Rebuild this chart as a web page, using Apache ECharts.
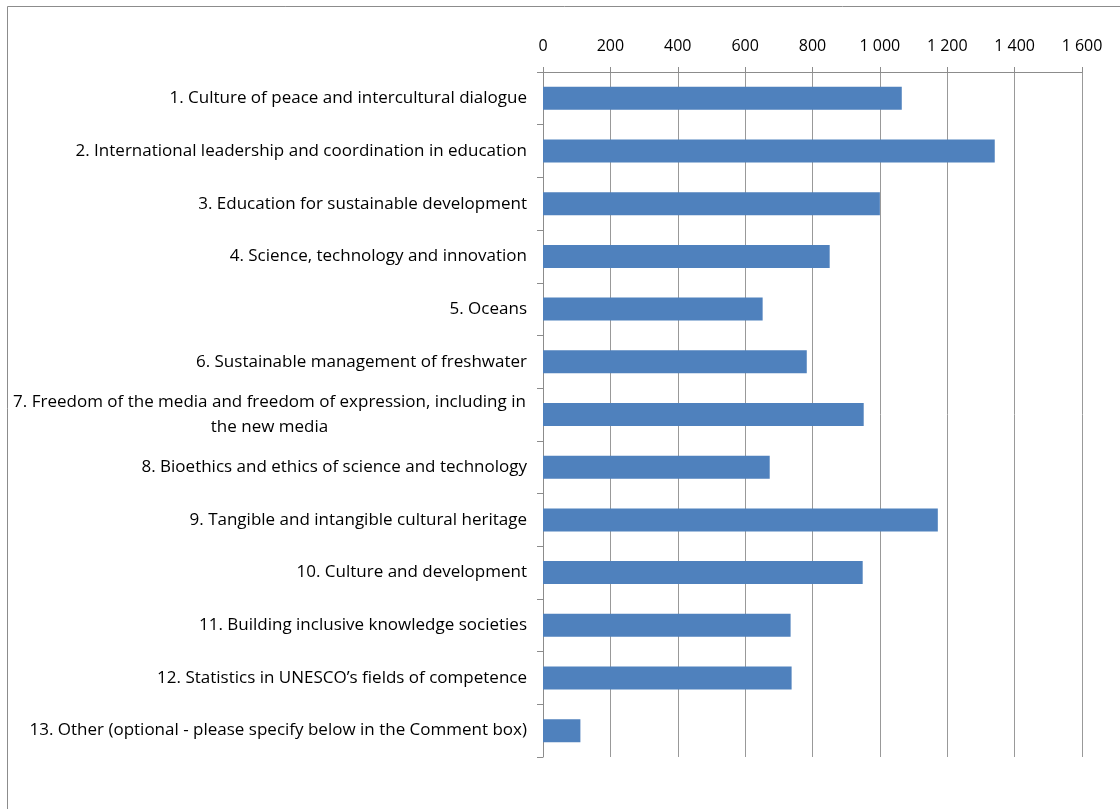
<!DOCTYPE html>
<html>
<head>
<meta charset="utf-8">
<script src="https://cdn.jsdelivr.net/npm/echarts@6/dist/echarts.min.js"></script>
<style>
  html, body { margin: 0; padding: 0; background: #fff; }
  #chart { width: 1120px; height: 809px; }
</style>
</head>
<body>
<div id="chart"></div>
<script>
// categories, top to bottom
var categories = [
  '1. Culture of peace and intercultural dialogue',
  '2. International leadership and coordination in education',
  '3. Education for sustainable development',
  '4. Science, technology and innovation',
  '5. Oceans',
  '6. Sustainable management of freshwater',
  '7. Freedom of the media and freedom of expression, including in\nthe new media',
  '8. Bioethics and ethics of science and technology',
  '9. Tangible and intangible cultural heritage',
  '10. Culture and development',
  '11. Building inclusive knowledge societies',
  '12. Statistics in UNESCO\u2019s fields of competence',
  '13. Other (optional - please specify below in the Comment box)'
];
var values = [1065, 1341, 1000, 851, 652, 783, 952, 673, 1172, 949, 735, 738, 111];
var tickValues = [0, 200, 400, 600, 800, 1000, 1200, 1400, 1600];
var tickLabels = ['0', '200', '400', '600', '800', '1 000', '1 200', '1 400', '1 600'];

var font = '"Open Sans", "Noto Sans", sans-serif';
var myChart = echarts.init(document.getElementById('chart'));
var option = {
  animation: false,
  backgroundColor: '#fff',
  graphic: [{
    type: 'rect',
    shape: { x: 7.5, y: 6.5, width: 1200, height: 900 },
    style: { fill: 'none', stroke: '#8c8c8c', lineWidth: 1 },
    z: -1
  }],
  grid: { left: 543, right: 38, top: 72, bottom: 52 },
  xAxis: {
    type: 'value',
    position: 'top',
    min: 0,
    max: 1600,
    interval: 200,
    axisLine: { show: true, lineStyle: { color: '#8c8c8c' } },
    axisTick: { show: true, length: 5, lineStyle: { color: '#8c8c8c' } },
    splitLine: { show: true, lineStyle: { color: '#999', width: 1 } },
    axisLabel: {
      margin: 18,
      fontFamily: font,
      fontSize: 16,
      color: '#000',
      formatter: function (v) {
        var i = tickValues.indexOf(v);
        return i >= 0 ? tickLabels[i] : '';
      }
    }
  },
  yAxis: {
    type: 'category',
    data: categories,
    inverse: true,
    axisLine: { show: true, lineStyle: { color: '#8c8c8c' } },
    axisTick: { show: true, length: 6, lineStyle: { color: '#8c8c8c' } },
    axisLabel: {
      margin: 16,
      fontFamily: font,
      fontSize: 17,
      color: '#000',
      lineHeight: 25,
      formatter: function (v) {
        if (v.indexOf('\n') >= 0) {
          return v.split('\n').map(function (s) { return '{c|' + s + '}'; }).join('\n');
        }
        return v;
      },
      rich: {
        c: { width: 515, align: 'center', fontFamily: font, fontSize: 17, color: '#000', lineHeight: 25 }
      }
    }
  },
  series: [{
    type: 'bar',
    data: values,
    barWidth: 23,
    itemStyle: { color: '#4F81BD' }
  }]
};
myChart.setOption(option);
</script>
</body>
</html>
